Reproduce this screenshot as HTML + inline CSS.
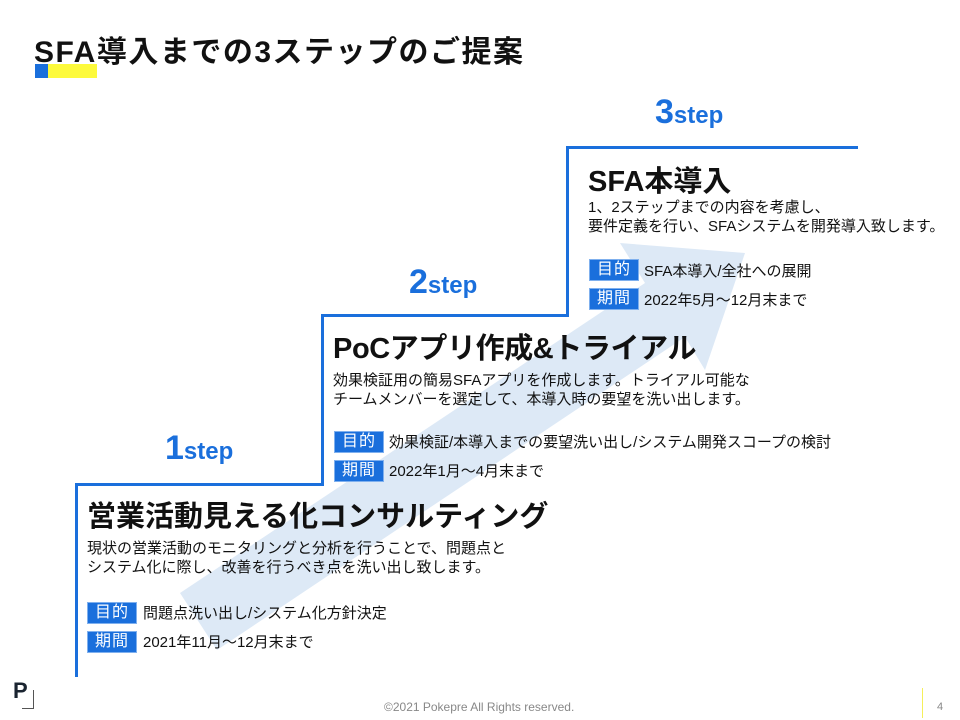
<!DOCTYPE html>
<html><head><meta charset="utf-8"><style>
body{margin:0;width:960px;height:720px;background:#fff;position:relative;overflow:hidden;font-family:"Liberation Sans","Noto Sans CJK JP",sans-serif;color:#111}
.a{position:absolute;white-space:nowrap}
.ln{position:absolute;background:#1a6fdc}
.h{font-weight:bold;font-size:29px}
.d{font-size:15px;line-height:19px}
.tag{position:absolute;width:48px;height:20px;background:#1a6fdc;color:#fff;font-size:16px;line-height:20px;text-align:center;border:1px solid #7fb0ee;box-sizing:content-box;letter-spacing:1px}
.t{font-size:15px}
.st{color:#1a6fdc;font-weight:bold}
.st b{font-size:34px}
.st span{font-size:24px}
</style></head><body>
<div class="a" style="left:34px;top:27px;font-size:30px;font-weight:bold;letter-spacing:1.5px">SFA導入までの3ステップのご提案</div>
<div class="a" style="left:35px;top:64px;width:13px;height:14px;background:#1a6fdc"></div>
<div class="a" style="left:48px;top:64px;width:49px;height:14px;background:#fdfa3c"></div>

<svg class="a" style="left:0;top:0" width="960" height="720"><polygon points="180,593 645,283 620,243 745,253 705,370 685,337 217,650" fill="#dde9f6"/></svg>

<div class="ln" style="left:75px;top:483px;width:3px;height:194px"></div>
<div class="ln" style="left:75px;top:483px;width:248px;height:3px"></div>
<div class="ln" style="left:321px;top:314px;width:3px;height:172px"></div>
<div class="ln" style="left:321px;top:314px;width:248px;height:3px"></div>
<div class="ln" style="left:566px;top:146px;width:3px;height:171px"></div>
<div class="ln" style="left:566px;top:146px;width:292px;height:3px"></div>

<div class="a st" style="left:165px;top:429px"><b>1</b><span>step</span></div>
<div class="a st" style="left:409px;top:263px"><b>2</b><span>step</span></div>
<div class="a st" style="left:655px;top:93px"><b>3</b><span>step</span></div>

<div class="a h" style="left:87px;top:493px">営業活動見える化コンサルティング</div>
<div class="a d" style="left:87px;top:539px">現状の営業活動のモニタリングと分析を行うことで、問題点と<br>システム化に際し、改善を行うべき点を洗い出し致します。</div>
<div class="tag" style="left:87px;top:602px">目的</div><div class="a t" style="left:143px;top:602px">問題点洗い出し/システム化方針決定</div>
<div class="tag" style="left:87px;top:631px">期間</div><div class="a t" style="left:143px;top:631px">2021年11月～12月末まで</div>

<div class="a h" style="left:333px;top:325px;letter-spacing:-0.4px">PoCアプリ作成&amp;トライアル</div>
<div class="a d" style="left:333px;top:371px">効果検証用の簡易SFAアプリを作成します。トライアル可能な<br>チームメンバーを選定して、本導入時の要望を洗い出します。</div>
<div class="tag" style="left:334px;top:431px">目的</div><div class="a t" style="left:389px;top:431px">効果検証/本導入までの要望洗い出し/システム開発スコープの検討</div>
<div class="tag" style="left:334px;top:460px">期間</div><div class="a t" style="left:389px;top:460px">2022年1月～4月末まで</div>

<div class="a h" style="left:588px;top:158px">SFA本導入</div>
<div class="a d" style="left:588px;top:198px">1、2ステップまでの内容を考慮し、<br>要件定義を行い、SFAシステムを開発導入致します。</div>
<div class="tag" style="left:589px;top:259px">目的</div><div class="a t" style="left:644px;top:260px">SFA本導入/全社への展開</div>
<div class="tag" style="left:589px;top:288px">期間</div><div class="a t" style="left:644px;top:289px">2022年5月～12月末まで</div>

<div class="a" style="left:13px;top:678px;font-size:22px;font-weight:bold;color:#1a2430">P</div>
<div class="a" style="left:22px;top:690px;width:11px;height:18px;border-right:1px solid #555;border-bottom:1px solid #555"></div>
<div class="a" style="left:384px;top:700px;font-size:12px;color:#888">©2021 Pokepre All Rights reserved.</div>
<div class="a" style="left:922px;top:688px;width:1px;height:30px;background:#f5ef5a"></div>
<div class="a" style="left:937px;top:701px;font-size:11px;color:#888">4</div>
</body></html>
